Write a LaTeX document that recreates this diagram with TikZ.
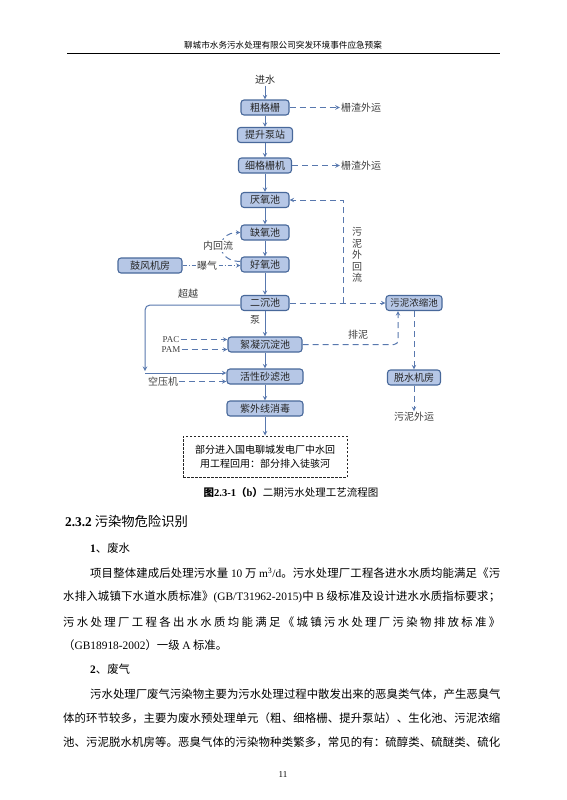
\documentclass[tikz,border=0pt]{standalone}
\usepackage{fontspec}
\setmainfont{Liberation Serif}
\newfontfamily\cjk{Noto Sans CJK SC}
\usepackage{tikz}
\usetikzlibrary{arrows,positioning}
% stretchable glue between CJK characters, for the justified lines
\XeTeXinterchartokenstate=1
\chardef\cjkclass=7
\newcount\cjkc
\cjkc="4E00 \loop \XeTeXcharclass\cjkc=\cjkclass \advance\cjkc 1 \ifnum\cjkc<"A000 \repeat
\cjkc="3000 \loop \XeTeXcharclass\cjkc=\cjkclass \advance\cjkc 1 \ifnum\cjkc<"3040 \repeat
\cjkc="FF00 \loop \XeTeXcharclass\cjkc=\cjkclass \advance\cjkc 1 \ifnum\cjkc<"FFF0 \repeat
\XeTeXinterchartoks\cjkclass\cjkclass={\hskip 0pt plus 2pt\relax}
\definecolor{boxfill}{HTML}{B6C7E6}
\definecolor{boxline}{HTML}{48689A}
\definecolor{flowline}{HTML}{5878AE}
\newcommand\lat[1]{{\rmfamily #1}}

\begin{document}
\begin{tikzpicture}[x=1pt, y=-1pt,
  every node/.style={font=\cjk\fontsize{10}{12}\selectfont, text=black!85, inner sep=1pt},
  unit/.style={rectangle, rounded corners=3pt, draw=boxline, line width=1.1pt, fill=boxfill, minimum height=15pt},
  flow/.style={draw=flowline, line width=1pt, ->, >=stealth},
  side/.style={flow, dash pattern=on 6pt off 4pt},
  note/.style={text=black!75},
  body/.style={anchor=west, inner sep=0pt, text=black, font=\cjk\fontsize{11.4}{13}\selectfont}
]
\useasboundingbox (0,0) rectangle (566,800);

% page header
\node[font=\cjk\fontsize{8.6}{10}\selectfont, text=black] (head) at (283,45) {聊城市水务污水处理有限公司突发环境事件应急预案};
\draw[line width=0.6pt] (67,53) -- (500,53);

% main line
\node (inw) at (265,80) {进水};
\node[unit, minimum width=48pt] (cgs) at (265,107.5) {粗格栅};
\node[unit, minimum width=55pt] (tsb) at (265,135) {提升泵站};
\node[unit, minimum width=53pt] (xgs) at (265,165.5) {细格栅机};
\node[unit, minimum width=48pt] (yyc) at (265,200) {厌氧池};
\node[unit, minimum width=48pt] (qyc) at (265,232.5) {缺氧池};
\node[unit, minimum width=48pt] (hyc) at (265,264.5) {好氧池};
\node[unit, minimum width=48pt] (ecc) at (265,303) {二沉池};
\node[unit, minimum width=74pt] (xnc) at (265,344.5) {絮凝沉淀池};
\node[unit, minimum width=76pt] (hxc) at (265,376.5) {活性砂滤池};
\node[unit, minimum width=76pt] (zwx) at (265,408.5) {紫外线消毒};
\node[draw=black!85, dash pattern=on 2.5pt off 1.5pt, line width=1pt, minimum width=164pt, minimum height=41pt,
  align=center, text=black, font=\cjk\fontsize{10}{14}\selectfont] (reuse) at (265,456.5)
  {部分进入国电聊城发电厂中水回\\用工程回用：部分排入徒骇河};

\foreach \a/\b in {inw/cgs, cgs/tsb, tsb/xgs, xgs/yyc, yyc/qyc, qyc/hyc, hyc/ecc, ecc/xnc, xnc/hxc, hxc/zwx, zwx/reuse}
  \draw[flow] (\a) -- (\b);
\node[note] (bang) at (255,320) {泵};

% screenings
\node[note] (zha1) at (361,107.5) {栅渣外运};
\node[note] (zha2) at (361,165.5) {栅渣外运};
\draw[side] (cgs) -- (zha1);
\draw[side] (xgs) -- (zha2);

% internal return
\draw[side] ([yshift=3pt]hyc.west) .. controls (215,261.5) and (215,232.5) .. (qyc.west);
\node[note, fill=white] (nhl) at (218,246) {内回流};

% aeration
\node[unit, minimum width=64pt] (gfj) at (150,265.5) {鼓风机房};
\draw[flow, dash pattern=on 4pt off 2pt on 1pt off 2pt] (gfj.east) -- (gfj.east -| hyc.west);
\node[note, fill=white] (bq) at (207,265.5) {曝气};

% bypass
\coordinate (byp) at (145,373);
\draw[flow, rounded corners=5pt] ([yshift=-2pt]ecc.west) -| ([yshift=2pt]byp);
\draw[flow] (byp) -- (byp -| hxc.west);
\node[note] (cy) at (188,294) {超越};

% sludge
\node[unit, minimum width=56pt, font=\cjk\fontsize{9.5}{11}\selectfont] (wnc) at (414,303) {污泥浓缩池};
\node[unit, minimum width=53pt] (tsj) at (414,377.5) {脱水机房};
\node[note] (wny) at (414,417) {污泥外运};
\coordinate (hl) at (343,303);
\draw[side] (ecc) -- (wnc);
\draw[side] (hl) |- (yyc);
\node[note, align=center, font=\cjk\fontsize{10}{11.5}\selectfont] (whl) at (357,255) {污\\泥\\外\\回\\流};
\draw[side, rounded corners=4pt] (xnc) -| ([xshift=-16pt]wnc.south);
\node[note] (pn) at (358,335) {排泥};
\draw[side] (wnc) -- (tsj);
\draw[side] (tsj) -- (wny);

% dosing and air
\node[note, font=\rmfamily\fontsize{9}{10}\selectfont] (pac) at (171,339.5) {PAC};
\node[note, font=\rmfamily\fontsize{9}{10}\selectfont] (pam) at (171,349.5) {PAM};
\node[note] (kyj) at (163,381.5) {空压机};
\draw[side] (pac) -- (pac -| xnc.west);
\draw[side] (pam) -- (pam -| xnc.west);
\draw[side] (kyj) -- (kyj -| hxc.west);

% caption
\node[text=black, font=\cjk\fontsize{10.5}{12}\selectfont] (cap) at (291,493)
  {{\bfseries 图\lat{2.3-1}（\lat{b}）}二期污水处理工艺流程图};

% body text
\node[body, font=\cjk\fontsize{13.3}{15}\selectfont] (sec) at (65,521) {\lat{\bfseries 2.3.2} 污染物危险识别};
\node[body] (ww) at (90,548) {\lat{\bfseries 1}、废水};
\node[body] (p1) at (90,573) {\hbox to 410pt{项目整体建成后处理污水量 \lat{10} 万 \lat{m\textsuperscript{3}/d}。污水处理厂工程各进水水质均能满足《污}};
\node[body] (p2) at (63,597) {\hbox to 437pt{水排入城镇下水道水质标准》\lat{(GB/T31962-2015)}中 \lat{B} 级标准及设计进水水质指标要求；}};
\node[body] (p3) at (63,622) {\hbox to 437pt{污水处理厂工程各出水水质均能满足《城镇污水处理厂污染物排放标准》}};
\node[body] (p4) at (63,645) {（\lat{GB18918-2002}）一级 \lat{A} 标准。};
\node[body] (wg) at (90,669) {\lat{\bfseries 2}、废气};
\node[body] (p5) at (90,694) {\hbox to 410pt{污水处理厂废气污染物主要为污水处理过程中散发出来的恶臭类气体，产生恶臭气}};
\node[body] (p6) at (63,718) {\hbox to 437pt{体的环节较多，主要为废水预处理单元（粗、细格栅、提升泵站）、生化池、污泥浓缩}};
\node[body] (p7) at (63,742) {\hbox to 437pt{池、污泥脱水机房等。恶臭气体的污染物种类繁多，常见的有：硫醇类、硫醚类、硫化}};
\node[text=black, font=\rmfamily\fontsize{9}{10}\selectfont] (pg) at (283,775) {11};
\end{tikzpicture}
\end{document}
